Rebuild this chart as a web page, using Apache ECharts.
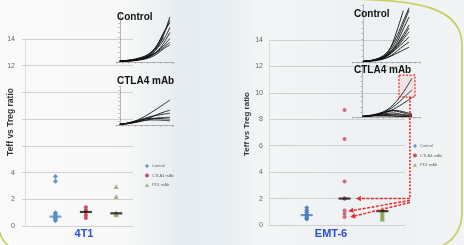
<!DOCTYPE html>
<html><head><meta charset="utf-8">
<script src="https://cdn.jsdelivr.net/npm/echarts@6/dist/echarts.min.js"></script>
<style>
html,body{margin:0;padding:0;background:#fff;}
#c{width:464px;height:245px;background:linear-gradient(90deg,#fafaf9 0%,#f7f8f8 27%,#e6edf1 38%,#e8eef2 50%,#f3f5f6 56%,#eef1f3 80%,#f1f3f4 100%);}
</style>
</head><body><div id="c"></div>
<script>
// ---------- data ----------
const groups = ['Control', 'CTLA4 mAb', 'PD1 mAb'];
const yTicks = [0, 2, 4, 6, 8, 10, 12, 14];
const hiddenTicks4T1 = [6, 8, 10];   // covered by the axis title in the original
const panelNames = ['4T1', 'EMT-6'];
const yName = 'Teff vs Treg ratio';
// 4T1 ratios
const t4Control = [3.7, 3.35, 1.0, 0.9, 0.8, 0.7, 0.65, 0.6, 0.5, 0.4];
const t4Ctla4 = [1.4, 1.2, 1.05, 0.8, 0.6];
const t4Pd1 = [2.95, 2.2, 1.0, 0.95, 0.9, 0.85];
const t4Means = [0.7, 1.05, 0.95];
// EMT-6 ratios
const emtControl = [1.3, 1.1, 0.95, 0.8, 0.75, 0.7, 0.6, 0.5, 0.45];
const emtCtla4 = [8.7, 6.5, 3.3, 2.0, 2.0, 2.0, 1.1, 0.85, 0.6];
const emtPd1 = [1.2, 1.05, 0.9, 0.75, 0.6, 0.45];
const emtMeans = [0.75, 2.0, 1.05];
// tumour growth insets (relative volume per day)
const days = [0, 1, 2, 3, 4, 5, 6, 7, 8];
const insetTitles = ['Control', 'CTLA4 mAb'];
const t4ControlCurves = [
  [2,2,3,5,8,15,30,55,92],
  [2,3,4,6,10,18,35,60,80],
  [2,2,3,5,9,16,28,45,70],
  [1,2,3,4,7,12,22,38,60],
  [2,3,4,6,9,14,22,33,48],
  [1,2,3,5,8,13,20,30,40],
  [2,3,5,8,12,20,35,58,85],
  [1,2,2,4,6,10,17,27,35],
  [2,3,4,7,11,19,32,50]
];
const t4Ctla4Curves = [
  [2,4,8,14,22,32,42,53,64],
  [2,3,6,10,15,20,27,33,38],
  [2,4,7,12,17,22,25,28,30],
  [2,3,5,8,12,15,18,19,20],
  [2,4,8,12,15,17,17,16,15],
  [1,3,6,9,12,13,13,12,11]
];
const emtControlCurves = [
  [1,2,4,8,15,28,48,72,95],
  [1,2,3,6,12,24,42,66,91],
  [1,2,3,5,10,20,36,58,79],
  [1,2,3,5,9,16,27,40,53],
  [1,1,2,4,7,12,20,28,35],
  [1,2,3,4,7,11,16,21,26],
  [1,2,4,7,12,20,32,48,65],
  [1,2,3,6,10,18,30,44,60],
  [1,2,3,6,13,30,58,90],
  [1,2,4,7,11,17,25,34,44]
];
const emtCtla4Curves = [
  [1,2,4,8,14,24,38,56,76],
  [1,2,4,7,12,20,30,42,53],
  [1,2,4,6,10,15,22,30,38],
  [1,3,5,8,11,13,12,9,6],
  [1,2,4,7,10,12,10,7,4],
  [1,2,3,5,7,8,6,4,3],
  [1,2,3,4,5,5,4,3,2],
  [1,2,3,3,3,2,2,1,1],
  [1,1,2,2,2,2,1,1,1]
];

// ---------- styling / layout ----------
const colorsLeft = ['#5b8cc8', '#c0485a', '#a9ae6c'];
const colorsRight = ['#4a7fc2', '#d0607a', '#8aa858'];
const symbols = ['diamond', 'circle', 'triangle'];
const symbolSizes = [5, 4, 5];

const chart = echarts.init(document.getElementById('c'), null, {renderer: 'canvas'});

const grids = [
  {left: 22, top: 39, width: 111, height: 187},   // 0 4T1 main
  {left: 269, top: 40, width: 136, height: 185},  // 1 EMT-6 main
  {left: 116, top: 13, width: 57, height: 49},    // 2 4T1 control inset
  {left: 116, top: 86, width: 57, height: 39},    // 3 4T1 CTLA4 inset
  {left: 352, top: 5, width: 68, height: 57},     // 4 EMT-6 control inset
  {left: 352, top: 66, width: 68, height: 51}     // 5 EMT-6 CTLA4 inset
];
const mainX = [{min: -0.1, max: 3.55}, {min: 0, max: 3.6}];
const nameCfg = [{gap: 7, size: 8.5, shift: 21, move: false}, {gap: 18, size: 8, shift: 17, move: true}];
const insetX = [{min: -0.6, max: 8.5}, {min: -0.6, max: 8.5}, {min: -1.9, max: 9.9}, {min: -1.6, max: 9.28}];

const xAxes = [], yAxes = [];
mainX.forEach((r, i) => {
  xAxes.push({type: 'value', gridIndex: i, min: r.min, max: r.max, show: false});
  yAxes.push({
    type: 'value', gridIndex: i, min: yTicks[0], max: yTicks[yTicks.length - 1], interval: yTicks[1] - yTicks[0],
    name: yName, nameLocation: 'middle', nameGap: nameCfg[i].gap, nameMoveOverlap: nameCfg[i].move,
    nameTextStyle: {fontSize: nameCfg[i].size, fontWeight: 'bold', color: '#333', fontFamily: 'Liberation Sans',
      padding: [0, 0, 0, nameCfg[i].shift]},
    axisLine: {show: true, lineStyle: {color: '#d4d4d4', width: 0.8}},
    axisTick: {show: false},
    axisLabel: {fontSize: 7, color: '#666', margin: i === 0 ? 7 : 6, fontFamily: 'Liberation Sans',
      formatter: v => (i === 0 && hiddenTicks4T1.includes(v)) ? '' : String(v)},
    splitLine: {lineStyle: {color: '#c6c6c6', width: 0.8}}
  });
});
const insetAxisStyle = {lineStyle: {color: '#8a8a8a', width: 0.6}};
insetX.forEach((r, k) => {
  const gi = k + 2;
  xAxes.push({type: 'value', gridIndex: gi, min: r.min, max: r.max, interval: 1,
    axisLine: {show: true, onZero: false, ...insetAxisStyle}, axisTick: {show: true, length: 1.5, ...insetAxisStyle},
    axisLabel: {show: false}, splitLine: {show: false}});
  yAxes.push({type: 'value', gridIndex: gi, min: 0, max: 100, interval: 10,
    axisLine: {show: true, ...insetAxisStyle}, axisTick: {show: true, length: 1.5, ...insetAxisStyle},
    axisLabel: {show: false}, splitLine: {show: false}});
});

const series = [];
function scatterSet(idx, sets, means, colors) {
  sets.forEach((vals, g) => {
    series.push({
      name: groups[g], type: 'scatter', xAxisIndex: idx, yAxisIndex: idx,
      symbol: symbols[g], symbolSize: symbolSizes[g],
      itemStyle: {color: colors[g], opacity: 0.95},
      data: vals.map(v => [g + 1, v]), z: 3
    });
  });
  series.push({
    name: 'mean' + idx, type: 'scatter', xAxisIndex: idx, yAxisIndex: idx,
    symbol: 'rect', symbolSize: [12, 2.2], z: 4,
    data: means.map((v, g) => ({value: [g + 1, v], itemStyle: {color: g === 0 ? colors[0] : '#111'}}))
  });
}
scatterSet(0, [t4Control, t4Ctla4, t4Pd1], t4Means, colorsLeft);
scatterSet(1, [emtControl, emtCtla4, emtPd1], emtMeans, colorsRight);

[t4ControlCurves, t4Ctla4Curves, emtControlCurves, emtCtla4Curves].forEach((curves, k) => {
  curves.forEach((c, j) => {
    series.push({
      name: 'growth' + k + '_' + j, type: 'line', xAxisIndex: k + 2, yAxisIndex: k + 2,
      showSymbol: false, silent: true, smooth: 0.3,
      lineStyle: {color: '#111', width: 0.9},
      data: c.map((v, i) => [days[i], v])
    });
  });
});

const titleStyle = {fontSize: 10, fontWeight: 'bold', color: '#111', fontFamily: 'Liberation Sans'};
const catStyle = {fontSize: 11, fontWeight: 'bold', color: '#2d4fd6', fontFamily: 'Liberation Sans'};
const titles = [
  {text: panelNames[0], left: 84, top: 228, textAlign: 'center', padding: 0, textStyle: catStyle},
  {text: panelNames[1], left: 331, top: 228, textAlign: 'center', padding: 0, textStyle: catStyle},
  {text: insetTitles[0], left: 117, top: 12, padding: 0, textStyle: titleStyle},
  {text: insetTitles[1], left: 117, top: 76, padding: 0, textStyle: titleStyle},
  {text: insetTitles[0], left: 354, top: 9, padding: 0, textStyle: titleStyle},
  {text: insetTitles[1], left: 354, top: 65, padding: 0, textStyle: titleStyle}
];
const legendBase = {data: groups, orient: 'vertical', itemWidth: 4, itemHeight: 4, itemGap: 5.5, padding: 0,
  textStyle: {fontSize: 4, color: '#666', padding: [0, 0, 0, -2]}, selectedMode: false};

chart.setOption({
  animation: false,
  backgroundColor: 'transparent',
  title: titles,
  legend: [{...legendBase, left: 145, top: 164}, {...legendBase, left: 413, top: 144}],
  grid: grids,
  xAxis: xAxes,
  yAxis: yAxes,
  series: series
});

// ---------- annotations (computed through the axes) ----------
const px = (axis, pt) => chart.convertToPixel({xAxisIndex: axis, yAxisIndex: axis}, pt);
const red = '#e8282a';
const frame = {stroke: '#c7cc5a', lineWidth: 1.6, fill: null};
const g = [];
// slide frame
g.push({type: 'bezierCurve', shape: {x1: 340, y1: -1, cpx1: 420, cpy1: -1, cpx2: 462, cpy2: 8, x2: 462, y2: 45}, style: frame, z: 0});
g.push({type: 'line', shape: {x1: 462, y1: 45, x2: 462, y2: 212}, style: frame, z: 0});
g.push({type: 'bezierCurve', shape: {x1: 462, y1: 212, cpx1: 462, cpy1: 232, cpx2: 452, cpy2: 242, x2: 438, y2: 248}, style: frame, z: 0});
g.push({type: 'bezierCurve', shape: {x1: -1, y1: 230, cpx1: 1, cpy1: 238, cpx2: 4, cpy2: 243, x2: 10, y2: 247}, style: frame, z: 0});
// box around responding curves
const b0 = px(5, [5.92, 82]), b1 = px(5, [8.48, 39]);
g.push({type: 'rect', shape: {x: b0[0], y: b0[1], width: b1[0] - b0[0], height: b1[1] - b0[1]},
  style: {stroke: red, lineWidth: 1.2, lineDash: [2, 1.5], fill: 'rgba(240,120,120,0.12)'}, z: 10});
// vertical dotted connector
const vTop = px(5, [7.68, 39]);
const vBot = px(1, [3.73, 2.0]);
g.push({type: 'line', shape: {x1: vBot[0], y1: vTop[1], x2: vBot[0], y2: vBot[1]},
  style: {stroke: red, lineWidth: 1.6, lineDash: [2, 1.5]}, z: 10});
function arrow(fromPt, toPt) {
  const a = px(1, fromPt), b = px(1, toPt);
  const ang = Math.atan2(b[1] - a[1], b[0] - a[0]);
  const L = 5, W = 2.6;
  const bx = b[0] - L * Math.cos(ang), by = b[1] - L * Math.sin(ang);
  g.push({type: 'line', shape: {x1: a[0], y1: a[1], x2: bx, y2: by},
    style: {stroke: red, lineWidth: 1.5, lineDash: [3, 1.5]}, z: 10});
  g.push({type: 'polygon', shape: {points: [[b[0], b[1]], [bx - W * Math.sin(ang), by + W * Math.cos(ang)], [bx + W * Math.sin(ang), by - W * Math.cos(ang)]]},
    style: {fill: red}, z: 10});
}
arrow([3.73, 2.0], [2.3, 2.0]);
arrow([3.73, 1.85], [2.1, 1.05]);
arrow([3.73, 1.7], [2.15, 0.6]);
chart.setOption({graphic: g});
</script>
</body></html>
